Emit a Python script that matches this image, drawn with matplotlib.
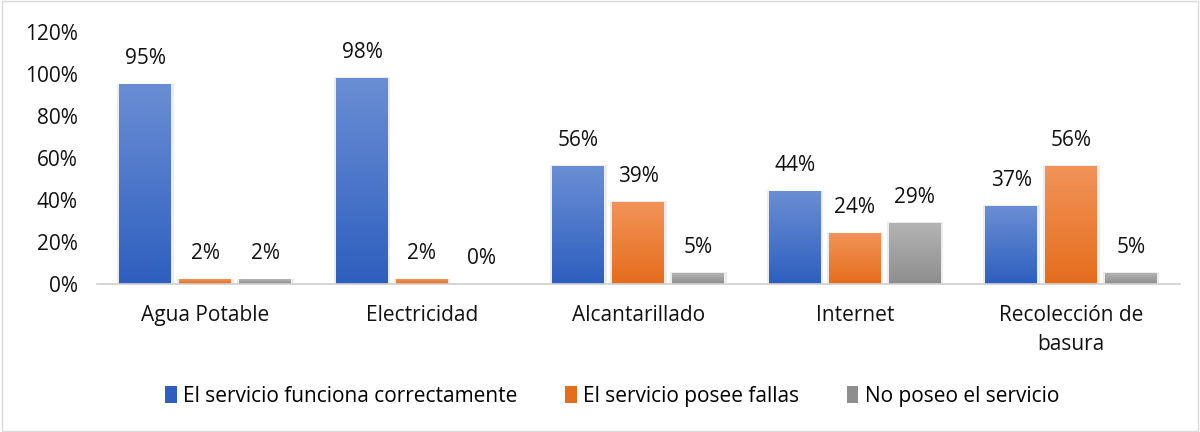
import numpy as np
import matplotlib
matplotlib.use("Agg")
import matplotlib.pyplot as plt
from matplotlib.colors import LinearSegmentedColormap
from matplotlib.patches import Rectangle, Patch

categories = ["Agua Potable", "Electricidad", "Alcantarillado", "Internet", "Recolección de\nbasura"]
funciona = [0.95, 0.98, 0.56, 0.44, 0.37]
fallas = [0.02, 0.02, 0.39, 0.24, 0.56]
no_posee = [0.02, 0.00, 0.05, 0.29, 0.05]
series_names = ["El servicio funciona correctamente", "El servicio posee fallas", "No poseo el servicio"]

# (top colour, bottom colour) for each series gradient
grads = [("#6a8ed4", "#2e5fbf"), ("#f29358", "#e56d1c"), ("#b3b3b3", "#8e8e8e")]

plt.rcParams["font.family"] = ["Open Sans", "DejaVu Sans"]

fig = plt.figure(figsize=(12, 4.32), dpi=100)
ax = fig.add_axes([0.081, 0.343, 0.902, 0.583])

x = np.arange(len(categories))
width = 0.24
step = 0.277
grad = np.linspace(1, 0, 100).reshape(-1, 1)

for i, vals in enumerate([funciona, fallas, no_posee]):
    top, bottom = grads[i]
    cmap = LinearSegmentedColormap.from_list("g%d" % i, [bottom, top])
    bars = ax.bar(x + (i - 1) * step, vals, width, color="none", zorder=2)
    for b, v in zip(bars, vals):
        bx, bw, bh = b.get_x(), b.get_width(), b.get_height()
        # soft shadow behind the bar
        ax.add_patch(Rectangle((bx - 0.01, -0.006), bw + 0.02, bh + 0.01,
                               color="#ececec", lw=0, zorder=1))
        if bh > 0:
            ax.imshow(grad, extent=[bx, bx + bw, 0, bh], aspect="auto",
                      cmap=cmap, vmin=0, vmax=1, zorder=2)
        ax.annotate(f"{v:.0%}", (bx + bw / 2, bh), xytext=(0, 11),
                    textcoords="offset points", ha="center", va="bottom",
                    fontsize=15, color="#111111")

ax.set_xlim(-0.5, len(categories) - 0.5)
ax.set_ylim(0, 1.2)
ax.set_yticks(np.arange(0, 1.21, 0.2))
ax.set_yticklabels([f"{t:.0%}" for t in np.arange(0, 1.21, 0.2)])
ax.set_xticks(x)
ax.set_xticklabels(categories, linespacing=1.55)
ax.tick_params(axis="both", length=0, labelsize=15, colors="#111111")
ax.tick_params(axis="x", pad=15)
ax.tick_params(axis="y", pad=14)
for s in ["top", "right", "left"]:
    ax.spines[s].set_visible(False)
ax.spines["bottom"].set_color("#d0d0d0")
ax.spines["bottom"].set_linewidth(1.2)

handles = [Patch(facecolor=g[1], edgecolor="none") for g in grads]
fig.legend(handles, series_names, loc="center", bbox_to_anchor=(0.51, 0.083),
           ncol=3, frameon=False, fontsize=15, handlelength=0.55, handleheight=0.85,
           handletextpad=0.3, columnspacing=2.3)

fig.add_artist(Rectangle((0.002, 0.003), 0.996, 0.994, transform=fig.transFigure,
                         fill=False, edgecolor="#d9d9d9", lw=1))

fig.savefig("out.png", dpi=100)
